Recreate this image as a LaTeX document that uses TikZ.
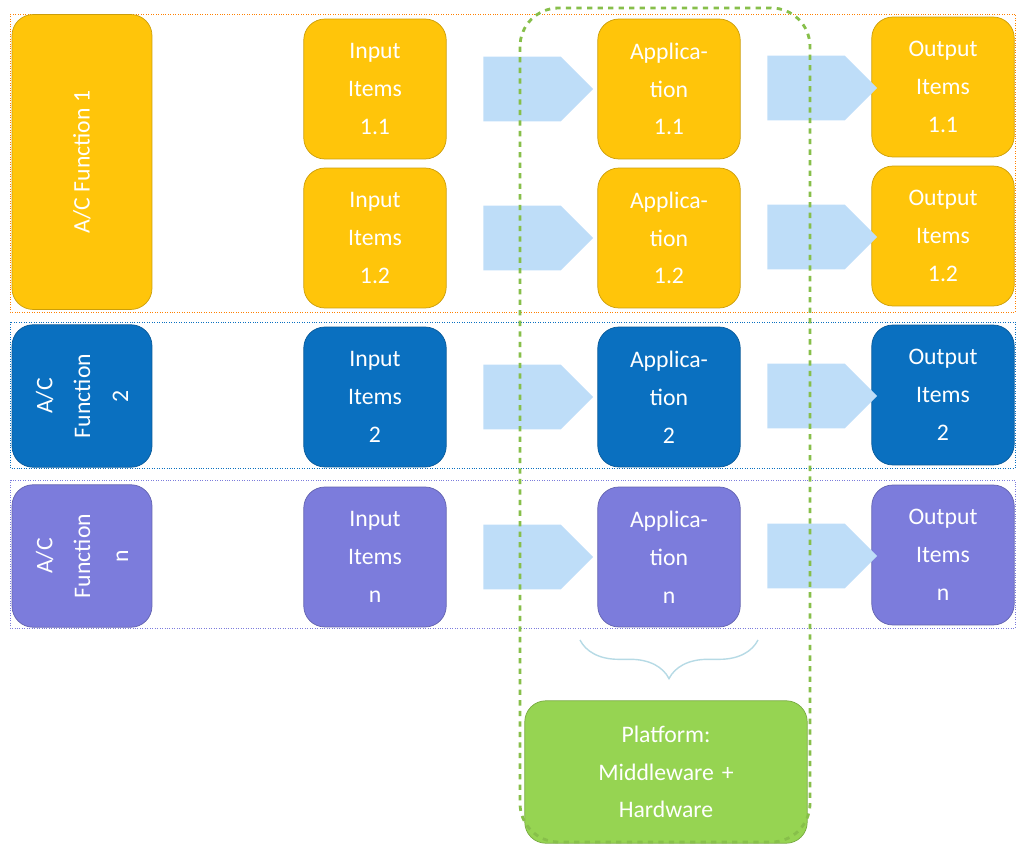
\documentclass[tikz,border=0pt]{standalone}
\usepackage{fontspec}
\setmainfont{Carlito}
\usetikzlibrary{shapes.arrows,decorations.pathreplacing,calc}
\definecolor{acyel}{HTML}{FFC50A}
\definecolor{acblu}{HTML}{0A70C0}
\definecolor{acpur}{HTML}{7C7CDC}
\definecolor{acgrn}{HTML}{96D452}
\definecolor{acarr}{HTML}{BEDDF8}
\tikzset{
  blk/.style={draw=#1!80!black,fill=#1,rounded corners=12pt,minimum width=2.85cm,
    minimum height=2.8cm,align=center,text=white,inner sep=2pt,
    font=\fontsize{13.5}{21.5}\selectfont},
  frm/.style={draw=#1,densely dotted,thin},
  fat/.style={single arrow,fill=acarr,draw=none,minimum height=2.2cm,
    minimum width=1.3cm,single arrow head extend=0pt,inner sep=3.5pt,
    single arrow tip angle=90}
}
\begin{document}
\begin{tikzpicture}[x=0.02cm,y=-0.02cm]
  \useasboundingbox (0,0) rectangle (1025,858);

  % row frames
  \draw[frm=orange] (10,14) rectangle (1015,312);
  \draw[frm=acblu] (10,322) rectangle (1015,468);
  \draw[frm=acpur] (10,480) rectangle (1015,628);

  % function boxes
  \node[blk=acyel,minimum width=5.9cm,minimum height=2.8cm,rotate=90] (f1) at (82,162) {A/C Function 1};
  \node[blk=acblu,rotate=90,text width=2.4cm] (f2) at (82,396) {A/C\\Function\\2};
  \node[blk=acpur,rotate=90,text width=2.4cm] (fn) at (82,556) {A/C\\Function\\n};

  % columns
  \foreach \r/\y/\c/\t in {11/89/acyel/1.1,12/238/acyel/1.2,2/397/acblu/2,n/557/acpur/n}{
    \node[blk=\c] (in\r) at (375,\y) {Input\\Items\\\t};
    \node[blk=\c] (ap\r) at (669,\y) {Applica-\\tion\\\t};
    \node[blk=\c] (out\r) at (943,\y-2) {Output\\Items\\\t};
    \node[fat] (a\r) at ($(in\r.east)!0.5!(ap\r.west)$) {};
    \node[fat] (b\r) at ($(ap\r.east)!0.5!(out\r.west)$) {};
  }

  % platform
  \node[blk=acgrn,minimum width=5.65cm,minimum height=2.85cm,text width=5cm] (plat) at (666,772)
    {Platform:\\Middleware +\\Hardware};
  \draw[draw=acgrn!90!black,dashed,line width=1.6pt,rounded corners=22pt] (520,8) rectangle (810,842);
  \draw[acarr!70!teal!60,thick,decorate,decoration={brace,amplitude=22pt,mirror}]
    (580,640) -- (758,640);
\end{tikzpicture}
\end{document}
